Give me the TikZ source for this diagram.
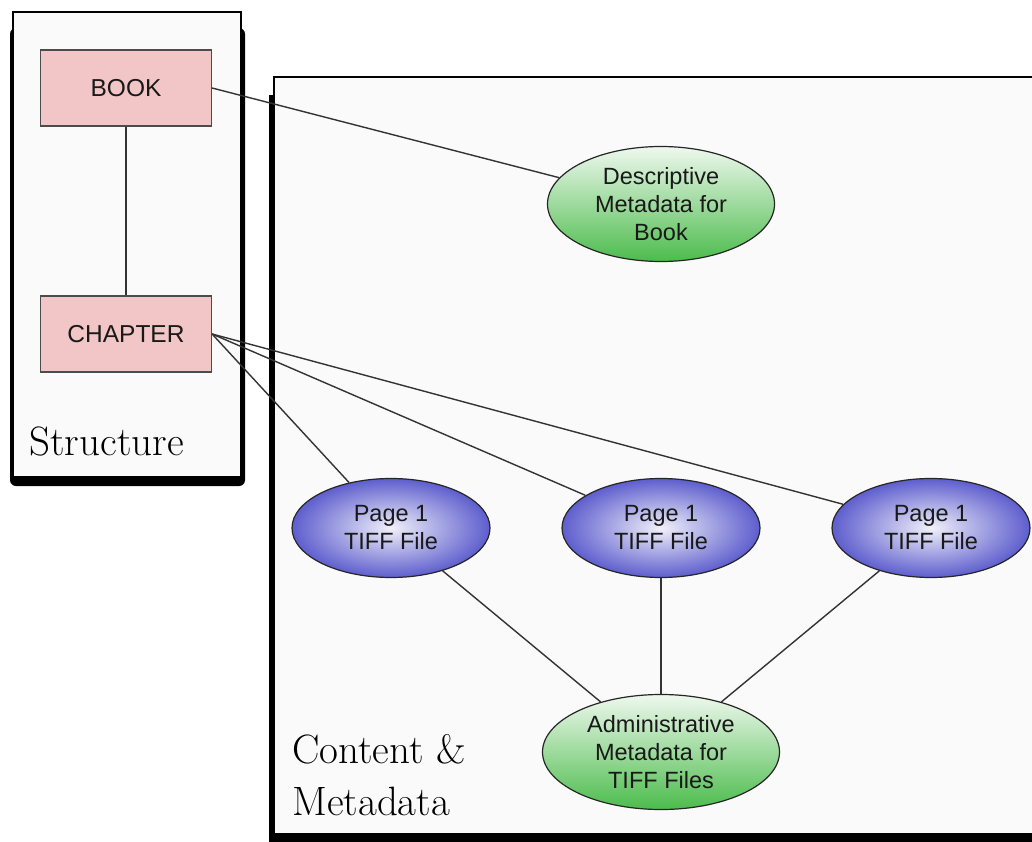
\documentclass[tikz,border=0pt]{standalone}
\usepackage{fontspec}
\usepackage{xcolor}
\usetikzlibrary{shapes.geometric,positioning}
\newfontfamily\labelfont{Liberation Sans}
\definecolor{boxgray}{HTML}{FAFAFA}
\definecolor{rosefill}{HTML}{F2C6C6}
\definecolor{pagedark}{HTML}{5E5ECE}
\definecolor{pagelight}{HTML}{F0F0FA}
\definecolor{metadark}{HTML}{4CBC4C}
\definecolor{metalight}{HTML}{EEF8EE}
\tikzset{
  partbox/.style={draw=black!70, fill=rosefill, line width=1.2pt, minimum width=171, minimum height=76,
    font=\labelfont\fontsize{24.5}{30}\selectfont, text=black!90},
  pageoval/.style={ellipse, draw=black!85, line width=1.2pt, inner sep=0pt, minimum width=198, minimum height=99,
    inner color=pagelight, outer color=pagedark, align=center,
    font=\labelfont\fontsize{23.5}{28}\selectfont, text=black!90},
  metaoval/.style={ellipse, draw=black!85, line width=1.2pt, inner sep=0pt,
    top color=metalight, bottom color=metadark, align=center,
    font=\labelfont\fontsize{23.5}{28}\selectfont, text=black!90},
  link/.style={draw=black!80, line width=1.4pt}
}

\begin{document}
\begin{tikzpicture}[x=1pt,y=-1pt]
\useasboundingbox (0,0) rectangle (1032,842);
\clip (0,0) rectangle (1032,842);
% the two areas
\fill[black, rounded corners=6] (10,28) rectangle (245,486);
\draw[fill=boxgray, line width=2pt] (13,12) rectangle (241,477);
\fill[black] (269,95) rectangle (1045,845);
\draw[fill=boxgray, line width=2.2pt] (274,77) rectangle (1045,834);
\node[anchor=base west, font=\fontsize{41}{50}\selectfont] (structlabel) at (26,455) {Structure};
\node[anchor=base west, align=left, inner sep=0pt, font=\fontsize{41}{52}\selectfont] (contentlabel) at (292,815) {Content \&\\Metadata};

% structure
\node[partbox] (book) at (126,88) {BOOK};
\node[partbox] (chapter) at (126,334) {CHAPTER};

% content and metadata
\node[metaoval, minimum width=227, minimum height=115] (descmeta) at (661,204) {Descriptive\\Metadata for\\Book};
\node[pageoval] (pageA) at (391,528) {Page 1\\TIFF File};
\node[pageoval] (pageB) at (661,528) {Page 1\\TIFF File};
\node[pageoval] (pageC) at (931,528) {Page 1\\TIFF File};
\node[metaoval, minimum width=237, minimum height=115] (adminmeta) at (661,752) {Administrative\\Metadata for\\TIFF Files};

\draw[link] (book.east) -- (descmeta);
\draw[link] (book) -- (chapter);
\foreach \p in {pageA,pageB,pageC}{
  \draw[link] (chapter.east) -- (\p);
  \draw[link] (\p) -- (adminmeta);
}
\end{tikzpicture}
\end{document}
